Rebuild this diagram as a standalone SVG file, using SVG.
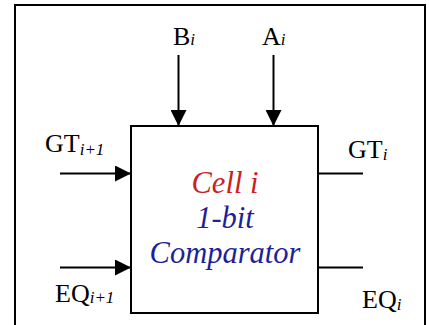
<svg xmlns="http://www.w3.org/2000/svg" width="429" height="325" viewBox="0 0 429 325">
<defs>
<style>
.ln{stroke:#000;stroke-width:2;fill:none}
.lbl{font-size:26px;fill:#000}
.sub{font-style:italic;font-size:17px}
.ctr{font-style:italic;font-size:30.5px;text-anchor:middle}
</style>
<marker id="ah" markerUnits="userSpaceOnUse" markerWidth="17" markerHeight="16" refX="16" refY="8" orient="auto">
<path d="M0,0 L16,8 L0,16 Z" fill="#000"/>
</marker>
</defs>
<rect width="429" height="325" fill="#fff"/>
<rect x="15" y="5" width="410" height="330" class="ln"/>
<g id="cell" font-family="Liberation Serif, Times New Roman, serif">
<rect x="131" y="126" width="187" height="187" class="ln"/>
<text class="ctr" x="225" y="193" fill="#cc1f1f">Cell i</text>
<text class="ctr" x="225" y="228" fill="#1f1f99">1-bit</text>
<text class="ctr" x="225" y="263" fill="#1f1f99">Comparator</text>
</g>
<g id="labels" font-family="Liberation Serif, Times New Roman, serif">
<text class="lbl" x="173" y="45">B<tspan class="sub">i</tspan></text>
<text class="lbl" x="262" y="45">A<tspan class="sub">i</tspan></text>
<text class="lbl" x="45" y="152">GT<tspan class="sub" dy="3">i+1</tspan></text>
<text class="lbl" x="55" y="302">EQ<tspan class="sub" dy="1">i+1</tspan></text>
<text class="lbl" x="348" y="158">GT<tspan class="sub" dy="2">i</tspan></text>
<text class="lbl" x="362" y="308">EQ<tspan class="sub" dy="2">i</tspan></text>
</g>
<g id="connectors">
<line x1="178.5" y1="55" x2="178.5" y2="126" class="ln" marker-end="url(#ah)"/>
<line x1="273.5" y1="55" x2="273.5" y2="126" class="ln" marker-end="url(#ah)"/>
<line x1="60" y1="173.5" x2="131" y2="173.5" class="ln" marker-end="url(#ah)"/>
<line x1="60" y1="267.5" x2="131" y2="267.5" class="ln" marker-end="url(#ah)"/>
<line x1="318" y1="173.5" x2="363" y2="173.5" class="ln"/>
<line x1="318" y1="267.5" x2="363" y2="267.5" class="ln"/>
</g>
</svg>
